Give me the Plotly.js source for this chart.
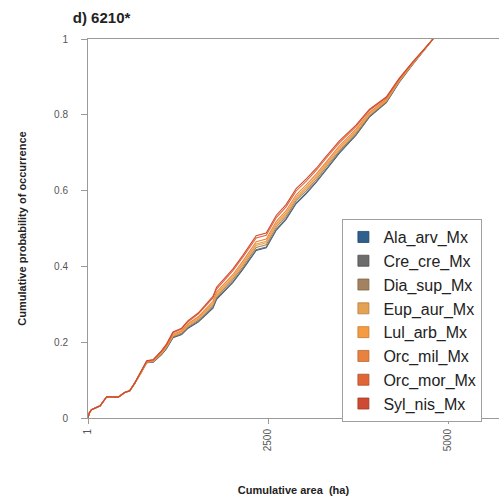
<!DOCTYPE html>
<html>
<head>
<meta charset="utf-8">
<script src="https://cdn.plot.ly/plotly-3.0.1.min.js"></script>
<style>html,body{margin:0;padding:0;background:#fff;}#chart{width:502px;height:499px;}</style>
</head>
<body>
<div id="chart"></div>
<script>
// Cumulative area (ha)
var areaHa = [1, 20, 50, 170, 260, 420, 510, 580, 650, 745, 815, 905, 1020, 1090, 1180, 1300, 1390, 1530, 1620, 1735, 1785, 2010, 2150, 2335, 2475, 2615, 2750, 2890, 3030, 3170, 3300, 3490, 3720, 3905, 4140, 4320, 4505, 4645, 4790];

var speciesNames = ["Ala_arv_Mx", "Cre_cre_Mx", "Dia_sup_Mx", "Eup_aur_Mx", "Lul_arb_Mx", "Orc_mil_Mx", "Orc_mor_Mx", "Syl_nis_Mx"];

// Cumulative probability of occurrence per species
var alaArv = [0.000, 0.014, 0.022, 0.032, 0.056, 0.055, 0.067, 0.072, 0.092, 0.121, 0.146, 0.147, 0.167, 0.183, 0.212, 0.220, 0.237, 0.253, 0.269, 0.290, 0.313, 0.357, 0.392, 0.442, 0.449, 0.496, 0.524, 0.566, 0.592, 0.622, 0.653, 0.699, 0.746, 0.794, 0.832, 0.886, 0.932, 0.965, 1.000];
var creCre = [0.000, 0.014, 0.022, 0.032, 0.056, 0.055, 0.067, 0.072, 0.092, 0.121, 0.146, 0.148, 0.167, 0.184, 0.213, 0.221, 0.238, 0.255, 0.270, 0.292, 0.315, 0.359, 0.394, 0.444, 0.451, 0.498, 0.526, 0.568, 0.594, 0.624, 0.655, 0.701, 0.747, 0.795, 0.833, 0.886, 0.933, 0.965, 1.000];
var diaSup = [0.000, 0.014, 0.022, 0.032, 0.056, 0.055, 0.067, 0.072, 0.092, 0.121, 0.147, 0.149, 0.169, 0.186, 0.215, 0.224, 0.241, 0.258, 0.274, 0.297, 0.319, 0.365, 0.399, 0.450, 0.457, 0.504, 0.532, 0.574, 0.600, 0.629, 0.661, 0.705, 0.751, 0.798, 0.835, 0.888, 0.934, 0.965, 1.000];
var eupAur = [0.000, 0.014, 0.022, 0.032, 0.056, 0.055, 0.067, 0.072, 0.092, 0.122, 0.148, 0.149, 0.170, 0.187, 0.217, 0.226, 0.243, 0.261, 0.278, 0.300, 0.323, 0.369, 0.404, 0.455, 0.462, 0.509, 0.537, 0.579, 0.605, 0.634, 0.665, 0.709, 0.755, 0.800, 0.837, 0.889, 0.934, 0.966, 1.000];
var lulArb = [0.000, 0.014, 0.022, 0.032, 0.056, 0.055, 0.067, 0.072, 0.092, 0.122, 0.148, 0.150, 0.171, 0.188, 0.218, 0.228, 0.246, 0.264, 0.281, 0.304, 0.327, 0.373, 0.408, 0.459, 0.466, 0.513, 0.541, 0.583, 0.609, 0.638, 0.669, 0.713, 0.758, 0.803, 0.838, 0.890, 0.935, 0.966, 1.000];
var orcMil = [0.000, 0.014, 0.022, 0.032, 0.056, 0.055, 0.067, 0.072, 0.092, 0.123, 0.149, 0.151, 0.173, 0.190, 0.221, 0.230, 0.249, 0.267, 0.285, 0.308, 0.332, 0.378, 0.414, 0.465, 0.472, 0.519, 0.547, 0.589, 0.615, 0.644, 0.674, 0.718, 0.762, 0.806, 0.841, 0.892, 0.936, 0.967, 1.000];
var orcMor = [0.000, 0.014, 0.022, 0.032, 0.056, 0.055, 0.067, 0.072, 0.092, 0.124, 0.150, 0.153, 0.176, 0.193, 0.225, 0.235, 0.254, 0.274, 0.292, 0.317, 0.340, 0.388, 0.424, 0.475, 0.482, 0.529, 0.557, 0.599, 0.625, 0.654, 0.684, 0.726, 0.769, 0.811, 0.845, 0.895, 0.938, 0.968, 1.000];
var sylNis = [0.000, 0.014, 0.022, 0.032, 0.056, 0.055, 0.067, 0.072, 0.092, 0.124, 0.151, 0.154, 0.177, 0.195, 0.227, 0.237, 0.257, 0.277, 0.296, 0.321, 0.345, 0.393, 0.429, 0.481, 0.488, 0.535, 0.563, 0.605, 0.631, 0.659, 0.689, 0.731, 0.773, 0.814, 0.847, 0.896, 0.939, 0.968, 1.000];

var xTickVals = [1, 2500, 5000];
var xTickText = ["1", "2500", "5000"];
var yTickVals = [0, 0.2, 0.4, 0.6, 0.8, 1];
var yTickText = ["0", "0.2", "0.4", "0.6", "0.8", "1"];

var seriesValues = [alaArv, creCre, diaSup, eupAur, lulArb, orcMil, orcMor, sylNis];
var seriesColors = ["#2f5f8c", "#6d6d6d", "#a3835f", "#e3a352", "#f59b42", "#e9823f", "#e06637", "#cf4a33"];
var swatchEdge = ["#1f4466", "#4c4c4c", "#7d6347", "#b37e3d", "#c47a33", "#b8652f", "#ad4e29", "#9e3826"];

var traces = [];
for (var i = 0; i < seriesValues.length; i++) {
  traces.push({
    type: "scatter", mode: "lines",
    x: areaHa, y: seriesValues[i],
    line: {color: seriesColors[i], width: 1.1},
    showlegend: false, hoverinfo: "skip"
  });
}
for (var j = 0; j < speciesNames.length; j++) {
  traces.push({
    type: "scatter", mode: "markers",
    x: [null], y: [null],
    name: speciesNames[j],
    marker: {symbol: "square", size: 11, color: seriesColors[j], line: {color: swatchEdge[j], width: 0.8}},
    showlegend: true
  });
}

var fontFam = "Liberation Sans, Arial, sans-serif";
var layout = {
  width: 502, height: 499,
  margin: {l: 88, r: 3, t: 39, b: 81},
  paper_bgcolor: "#ffffff", plot_bgcolor: "#ffffff",
  font: {family: fontFam, color: "#333"},
  title: {
    text: "<b>d) 6210*</b>",
    font: {family: fontFam, size: 15, color: "#222"},
    xref: "container", yref: "container",
    x: 0.145, xanchor: "left", y: 0.964, yanchor: "middle"
  },
  xaxis: {
    range: [1, 5705],
    tickmode: "array", tickvals: xTickVals, ticktext: xTickText,
    tickangle: -90,
    ticks: "outside", ticklen: 5, tickcolor: "#9a9a9a", tickwidth: 1,
    ticklabelstandoff: 1,
    showline: true, linecolor: "#9a9a9a", linewidth: 1, mirror: true,
    showgrid: false, zeroline: false,
    tickfont: {family: fontFam, size: 10, color: "#555"},
    title: {text: "<b>Cumulative area  (ha)</b>", font: {family: fontFam, size: 11, color: "#222"}, standoff: 36}
  },
  yaxis: {
    range: [0, 1],
    tickmode: "array", tickvals: yTickVals, ticktext: yTickText,
    ticks: "outside", ticklen: 6, tickcolor: "#9a9a9a", tickwidth: 1,
    ticklabelstandoff: 11,
    showline: true, linecolor: "#9a9a9a", linewidth: 1, mirror: false,
    showgrid: false, zeroline: false,
    tickfont: {family: fontFam, size: 10, color: "#555"},
    title: {text: "<b>Cumulative probability of occurrence</b>", font: {family: fontFam, size: 11, color: "#222"}, standoff: 25}
  },
  legend: {
    x: 0.619, xanchor: "left", y: 0.525, yanchor: "top",
    bgcolor: "#ffffff", bordercolor: "#a0a0a0", borderwidth: 1,
    font: {family: fontFam, size: 16, color: "#222"},
    traceorder: "normal"
  },
  showlegend: true
};

Plotly.newPlot("chart", traces, layout, {displayModeBar: false, staticPlot: true});
</script>
</body>
</html>
